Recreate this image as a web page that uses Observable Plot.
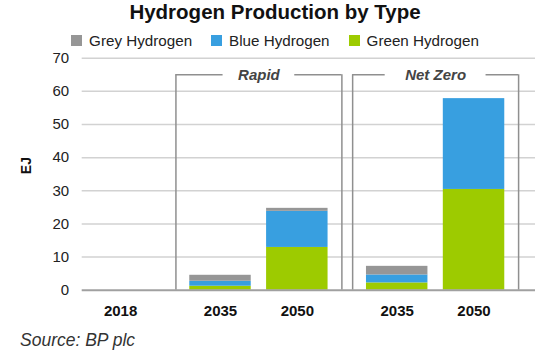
<!DOCTYPE html>
<html>
<head>
<meta charset="utf-8">
<script src="https://cdn.jsdelivr.net/npm/d3@7"></script>
<script src="https://cdn.jsdelivr.net/npm/@observablehq/plot@0.6"></script>
<style>
  html, body { margin: 0; padding: 0; background: #fff; }
  body { width: 550px; height: 354px; position: relative; overflow: hidden;
         font-family: "Liberation Sans", Arial, Helvetica, sans-serif; color: #222; }
  #title { position: absolute; top: 0; left: 0; width: 550px; text-align: center;
           font-weight: bold; font-size: 20.5px; line-height: 23px; color: #111; }
  #legend { position: absolute; top: 32px; left: 0; width: 550px; display: flex;
            justify-content: center; gap: 19px; font-size: 15.2px; line-height: 17px; color: #222; }
  #legend .sw { display: inline-block; width: 11px; height: 11px; margin-right: 7px; vertical-align: baseline; }
  #chart { position: absolute; top: 50px; left: 0; }
  #caption { position: absolute; top: 330px; left: 20px; font-style: italic; font-size: 17.5px;
             line-height: 20px; color: #333; }
</style>
</head>
<body>
<div id="title">Hydrogen Production by Type</div>
<div id="legend"></div>
<div id="chart"></div>
<div id="caption">Source: BP plc</div>
<script>
// ---- data ----
const scenarios = ["", "Rapid", "Rapid", "Net Zero", "Net Zero"];
const years = ["2018", "2035", "2050", "2035", "2050"];
const greyH = [0, 1.8, 0.9, 2.6, 0];
const blueH = [0, 1.5, 10.9, 2.4, 27.4];
const greenH = [0, 1.2, 12.9, 2.2, 30.4];
const types = ["Grey Hydrogen", "Blue Hydrogen", "Green Hydrogen"];
const colors = ["#969696", "#389fe0", "#9dcb00"];
const yTicks = [0, 10, 20, 30, 40, 50, 60, 70];

// ---- legend ----
const legend = document.getElementById("legend");
types.forEach((t, i) => {
  const item = document.createElement("span");
  const sw = document.createElement("span");
  sw.className = "sw";
  sw.style.background = colors[i];
  item.appendChild(sw);
  item.appendChild(document.createTextNode(t));
  legend.appendChild(item);
});

// ---- layout of categories (groups separated by a gap) ----
const GROUP_GAP = 0.3;
const HALF = 0.4;       // half bar width
const BRACKET_PAD = 0.58;
const BRACKET_TOP = 65;
let g = 0;
const pos = scenarios.map((s, i) => {
  if (i > 0 && s !== scenarios[i - 1]) g++;
  return i + GROUP_GAP * g;
});

// stacked rectangles: green bottom, blue middle, grey top
const series = [
  {type: "Green Hydrogen", values: greenH},
  {type: "Blue Hydrogen", values: blueH},
  {type: "Grey Hydrogen", values: greyH}
];
const rects = [];
pos.forEach((p, i) => {
  let base = 0;
  series.forEach(s => {
    const v = s.values[i];
    if (v > 0) rects.push({x1: p - HALF, x2: p + HALF, y1: base, y2: base + v, type: s.type});
    base += v;
  });
});

const cats = pos.map((p, i) => ({p, year: years[i]}));

const groups = d3.groups(cats.map((c, i) => ({...c, s: scenarios[i]})).filter(d => d.s), d => d.s)
  .map(([name, arr]) => {
    const left = d3.min(arr, d => d.p) - BRACKET_PAD;
    const right = d3.max(arr, d => d.p) + BRACKET_PAD;
    const center = (left + right) / 2;
    const halfGap = 0.15 + 0.0633 * name.length;
    return {name, left, right, center, halfGap};
  });

const bracketColor = "#8f8f8f";

const plot = Plot.plot({
  width: 550,
  height: 280,
  marginLeft: 81.7,
  marginRight: 15,
  marginTop: 7.7,
  marginBottom: 40.3,
  style: {fontFamily: "'Liberation Sans', Arial, sans-serif", fontSize: "15px", color: "#222", background: "transparent"},
  x: {domain: [-0.5, 5.4], axis: null},
  y: {domain: [0, 70], ticks: yTicks, tickSize: 0, tickPadding: 13, label: null},
  color: {domain: types, range: colors},
  marks: [
    Plot.ruleY(yTicks.filter(d => d > 0), {stroke: "#d2d2d2", strokeWidth: 1.5}),
    // brackets
    Plot.ruleX(groups, {x: "left", y1: 0, y2: BRACKET_TOP, stroke: bracketColor, strokeWidth: 1.5}),
    Plot.ruleX(groups, {x: "right", y1: 0, y2: BRACKET_TOP, stroke: bracketColor, strokeWidth: 1.5}),
    Plot.ruleY(groups, {y: BRACKET_TOP, x1: "left", x2: d => d.center - d.halfGap, stroke: bracketColor, strokeWidth: 1.5}),
    Plot.ruleY(groups, {y: BRACKET_TOP, x1: d => d.center + d.halfGap, x2: "right", stroke: bracketColor, strokeWidth: 1.5}),
    Plot.text(groups, {x: "center", y: BRACKET_TOP, text: "name", fontStyle: "italic", fontWeight: "bold",
      fontSize: 15, fill: "#444", lineAnchor: "middle"}),
    // bars
    Plot.rect(rects, {x1: "x1", x2: "x2", y1: "y1", y2: "y2", fill: "type"}),
    Plot.ruleY([0], {stroke: "#a0a0a0", strokeWidth: 2}),
    // category labels
    Plot.text(cats, {x: "p", y: 0, text: "year", dy: 26, lineAnchor: "bottom", fontWeight: "bold", fontSize: 15, fill: "#111"}),
    // y label
    Plot.text(["EJ"], {frameAnchor: "left", text: d => d, rotate: -90, dx: -55.7, fontWeight: "bold", fontSize: 14, fill: "#111"})
  ]
});
document.getElementById("chart").appendChild(plot);
</script>
</body>
</html>
